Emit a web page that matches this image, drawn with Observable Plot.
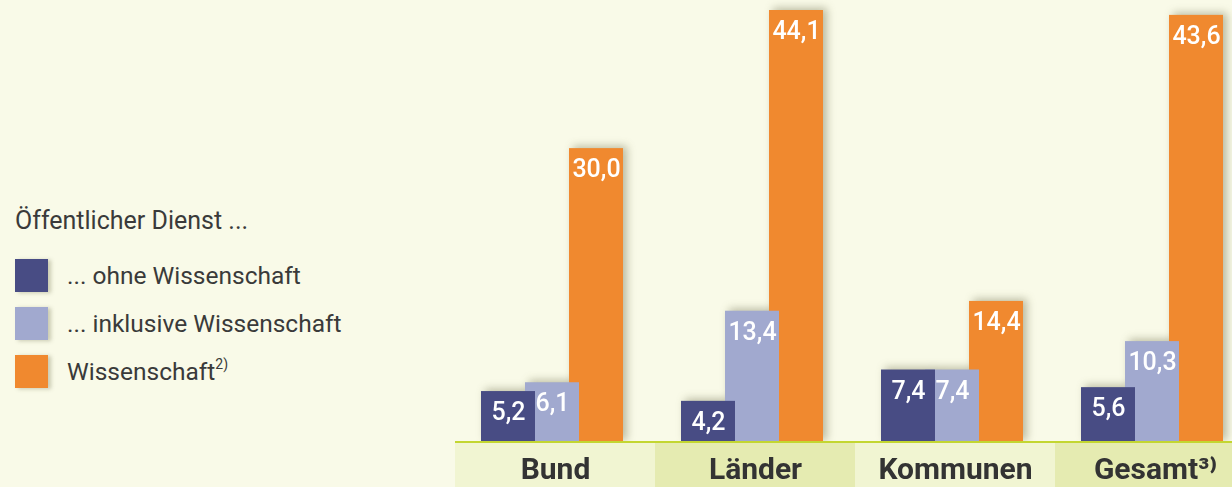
<!DOCTYPE html>
<html><head><meta charset="utf-8">
<script src="https://cdn.jsdelivr.net/npm/d3@7"></script>
<script src="https://cdn.jsdelivr.net/npm/@observablehq/plot@0.6"></script>
<style>
html,body{margin:0;padding:0;background:#f9fae8;overflow:hidden;}
#wrap{position:relative;width:1232px;height:487px;background:#f9fae8;font-family:Roboto,"Open Sans",sans-serif;}
#chart svg{display:block;}
.legend-title{position:absolute;left:15px;top:204px;font-size:25px;color:#3a3a3a;line-height:33px;white-space:nowrap;}
.legend-item{position:absolute;left:15px;height:33px;display:flex;align-items:center;font-size:24.5px;color:#3a3a3a;white-space:nowrap;}
.legend-item sup{font-size:14px;position:relative;top:-2px;}
.sw{width:33px;height:33px;margin-right:19px;box-shadow:3px 1px 4px rgba(90,90,50,0.3);flex:none;}
</style></head>
<body><div id="wrap"><div id="chart"></div></div>
<script>
const categories = ["Bund", "Länder", "Kommunen", "Gesamt"];
const categoryLabels = ["Bund", "Länder", "Kommunen", "Gesamt³⁾"];
const series = ["ohne Wissenschaft", "inklusive Wissenschaft", "Wissenschaft"];
const legendTitle = "Öffentlicher Dienst ...";
const legendLabels = ["... ohne Wissenschaft", "... inklusive Wissenschaft", "Wissenschaft"];
const legendNotes = ["", "", "2)"];
const ohneWissenschaft = [5.2, 4.2, 7.4, 5.6];
const inklusiveWissenschaft = [6.1, 13.4, 7.4, 10.3];
const wissenschaft = [30.0, 44.1, 14.4, 43.6];
const seriesColors = ["#484c84", "#a1a9cf", "#f0892f"];
const bandColors = ["#f1f5d2", "#e5ebb1", "#f1f5d2", "#e5ebb1"];

const values = [ohneWissenschaft, inklusiveWissenschaft, wissenschaft];
const data = [];
for (let s = series.length - 1; s >= 0; s--) {
  categories.forEach((c, i) => data.push({category: c, series: series[s], value: values[s][i]}));
}
const fmt = d => d3.format(".1f")(d).replace(".", ",");

const topPlot = Plot.plot({
  width: 1232, height: 443, marginTop: 10, marginBottom: 1, marginLeft: 0, marginRight: 0,
  style: {background: "transparent"},
  fx: {domain: categories, range: [455, 1255], padding: 0, axis: null},
  x: {domain: series, range: [26, 158], padding: 0, axis: null},
  y: {domain: [0, 44.1], axis: null},
  color: {domain: series, range: seriesColors},
  marks: [
    Plot.barY(data, {fx: "category", x: "series", y: "value", fill: "series", insetRight: -10}),
    Plot.ruleY([0], {stroke: "#c3d631", strokeWidth: 3}),
    Plot.text(data, {fx: "category", x: "series", y: "value", text: d => fmt(d.value), fill: "white",
      lineAnchor: "top", dy: 11, dx: 5, fontSize: 25, fontWeight: 500, fontFamily: "Roboto"})
  ]
});
d3.select(topPlot).selectAll('g[aria-label="bar"]').style("filter", "drop-shadow(4px -2px 4px rgba(70,70,30,0.35))");

const bottomPlot = Plot.plot({
  width: 1232, height: 44, margin: 0,
  style: {background: "transparent"},
  x: {domain: categories, range: [455, 1255], padding: 0, axis: null},
  color: {domain: categories, range: bandColors},
  marks: [
    Plot.cell(categories, {x: d => d, fill: d => d, inset: 0}),
    Plot.text(categories, {x: d => d, text: (d, i) => categoryLabels[i], fontSize: 30, fontWeight: "bold",
      fill: "#333", dy: 3.5, fontFamily: "Roboto"})
  ]
});

const chart = document.getElementById("chart");
chart.appendChild(topPlot);
chart.appendChild(bottomPlot);

const wrap = document.getElementById("wrap");
const t = document.createElement("div");
t.className = "legend-title";
t.textContent = legendTitle;
wrap.appendChild(t);
legendLabels.forEach((lab, i) => {
  const it = document.createElement("div");
  it.className = "legend-item";
  it.style.top = (259 + i * 48) + "px";
  const sw = document.createElement("div");
  sw.className = "sw";
  sw.style.background = seriesColors[i];
  it.appendChild(sw);
  const sp = document.createElement("span");
  sp.textContent = lab;
  if (legendNotes[i]) {
    const sup = document.createElement("sup");
    sup.textContent = legendNotes[i];
    sp.appendChild(sup);
  }
  it.appendChild(sp);
  wrap.appendChild(it);
});
</script>
</body></html>
